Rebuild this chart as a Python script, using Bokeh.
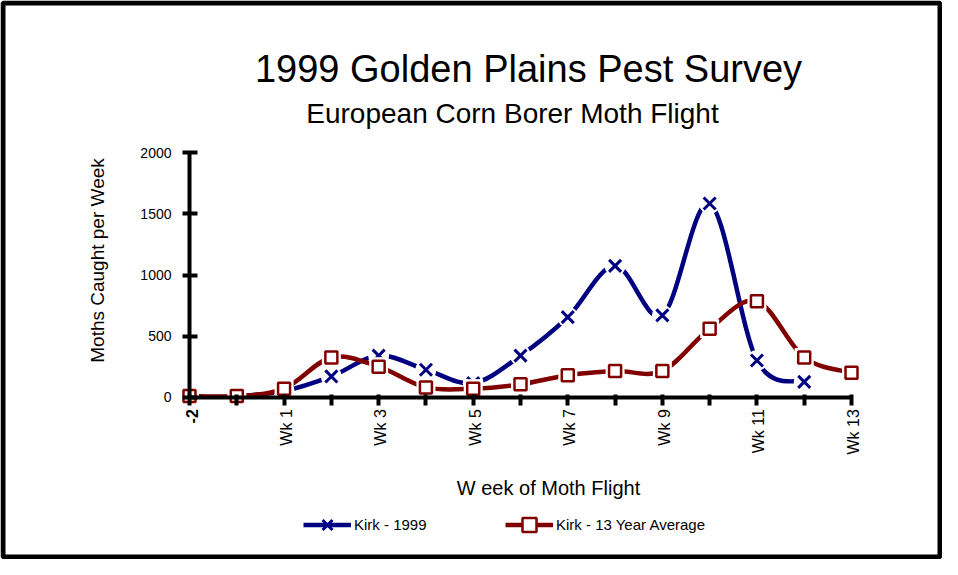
import math
from bokeh.plotting import figure
from bokeh.models import (Range1d, Label, Legend, LegendItem, BoxAnnotation,
                          FixedTicker, ColumnDataSource)
from bokeh.core.properties import value
from bokeh.embed import file_html
from bokeh.resources import INLINE

# ---------------- data ----------------
weeks = list(range(15))
week_labels = ["-2", "", "Wk 1", "", "Wk 3", "", "Wk 5", "", "Wk 7", "",
               "Wk 9", "", "Wk 11", "", "Wk 13"]
kirk_1999 = [None, 5, 50, 170, 340, 225, 115, 340, 655, 1075, 670, 1585, 300, 125, None]
kirk_avg = [10, 10, 70, 325, 250, 80, 70, 105, 180, 215, 215, 560, 785, 325, 200]
y_ticks = [0, 500, 1000, 1500, 2000]

title_text = "1999 Golden Plains Pest Survey"
subtitle_text = "European Corn Borer Moth Flight"
x_title = "W eek of Moth Flight"
y_title = "Moths Caught per Week"
name_1999 = "Kirk - 1999"
name_avg = "Kirk - 13 Year Average"

BLUE = "#000080"
RED = "#800000"
FONT = "Liberation Sans"

W, H = 942, 559


def bezier_source(xs, ys):
    """Smoothed line (Catmull-Rom -> cubic Bezier control points) through the data."""
    pts = [(x, y) for x, y in zip(xs, ys) if y is not None]
    n = len(pts)
    d = dict(x0=[], y0=[], x1=[], y1=[], cx0=[], cy0=[], cx1=[], cy1=[])
    for i in range(n - 1):
        p0 = pts[max(i - 1, 0)]
        p1 = pts[i]
        p2 = pts[i + 1]
        p3 = pts[min(i + 2, n - 1)]
        d["x0"].append(p1[0]); d["y0"].append(p1[1])
        d["x1"].append(p2[0]); d["y1"].append(p2[1])
        d["cx0"].append(p1[0] + (p2[0] - p0[0]) / 6.0)
        d["cy0"].append(p1[1] + (p2[1] - p0[1]) / 6.0)
        d["cx1"].append(p2[0] - (p3[0] - p1[0]) / 6.0)
        d["cy1"].append(p2[1] - (p3[1] - p1[1]) / 6.0)
    return ColumnDataSource(d)


def point_source(xs, ys):
    px = [x for x, y in zip(xs, ys) if y is not None]
    py = [y for y in ys if y is not None]
    return ColumnDataSource(dict(x=px, y=py))


# the frame covers the whole canvas; the data box (0..14, 0..2000) sits inside it
x0_px, x14_px = 189.0, 851.0
y0_px, y2000_px = 396.7, 152.3
kx = (x14_px - x0_px) / 14.0
ky = (y0_px - y2000_px) / 2000.0
x_range = Range1d(-x0_px / kx, (W - x0_px) / kx)
y_range = Range1d(-(H - y0_px) / ky, 2000 + y2000_px / ky)

p = figure(width=W, height=H, x_range=x_range, y_range=y_range,
           output_backend="svg", toolbar_location=None, title=None,
           min_border=0, min_border_left=0, min_border_right=0,
           min_border_top=0, min_border_bottom=0)
p.outline_line_color = None
p.xgrid.visible = False
p.ygrid.visible = False
p.background_fill_color = "white"
p.border_fill_color = "white"

# axes
for ax in (p.xaxis, p.yaxis):
    ax.axis_line_width = 4
    ax.axis_line_color = "black"
    ax.major_tick_line_width = 4
    ax.major_tick_line_color = "black"
    ax.minor_tick_line_color = None
    ax.major_label_text_font = FONT
    ax.major_label_text_color = "black"

p.xaxis.fixed_location = 0
p.yaxis.fixed_location = 0
p.xaxis.bounds = (0, 14)
p.yaxis.bounds = (0, 2000)
p.xaxis.ticker = FixedTicker(ticks=weeks)
# week labels are drawn below as upward-reading text
p.xaxis.major_label_overrides = {w: "" for w in weeks}
p.xaxis.major_label_text_font_size = "0px"
p.xaxis.major_tick_in = 3
p.xaxis.major_tick_out = 8
p.yaxis.ticker = FixedTicker(ticks=y_ticks)
p.yaxis.major_label_text_font_size = "14px"
p.yaxis.major_tick_in = 8
p.yaxis.major_tick_out = 7
p.yaxis.major_label_standoff = 11

# series: 1999
bsrc = bezier_source(weeks, kirk_1999)
bpts = point_source(weeks, kirk_1999)
b_line = p.bezier(x0="x0", y0="y0", x1="x1", y1="y1", cx0="cx0", cy0="cy0",
                  cx1="cx1", cy1="cy1", source=bsrc, line_color=BLUE, line_width=4.5)
b_halo = p.scatter("x", "y", source=bpts, marker="circle", size=21,
                   fill_color="white", line_color=None)
b_mark = p.scatter("x", "y", source=bpts, marker="x", size=17,
                   line_color=BLUE, line_width=3)

# series: 13 year average
rsrc = bezier_source(weeks, kirk_avg)
rpts = point_source(weeks, kirk_avg)
r_line = p.bezier(x0="x0", y0="y0", x1="x1", y1="y1", cx0="cx0", cy0="cy0",
                  cx1="cx1", cy1="cy1", source=rsrc, line_color=RED, line_width=4.5)
r_halo = p.scatter("x", "y", source=rpts, marker="square", size=19,
                   fill_color="white", line_color=None)
r_mark = p.scatter("x", "y", source=rpts, marker="square", size=12,
                   fill_color="white", line_color=RED, line_width=2.5)

# week tick labels, reading upward, hanging below the axis
lab_x = [w for w, lab in zip(weeks, week_labels) if lab]
lab_t = [lab for lab in week_labels if lab]
lab_style = ["bold" if t.startswith("-") else "normal" for t in lab_t]
lsrc = ColumnDataSource(dict(x=lab_x, y=[0] * len(lab_x), text=lab_t, style=lab_style))
p.text(x="x", y="y", text="text", source=lsrc, angle=math.pi / 2,
       text_align="right", text_baseline="middle", x_offset=2, y_offset=12,
       text_font=value(FONT), text_font_size=value("16px"),
       text_font_style="style", text_color="black")


def fy(canvas_y):
    """screen y measured upward from the frame bottom"""
    return H - canvas_y


# legends
for item, loc in ((LegendItem(label=name_1999, renderers=[b_line, b_mark]), (303, fy(542))),
                  (LegendItem(label=name_avg, renderers=[r_line, r_mark]), (505, fy(542)))):
    lg = Legend(items=[item], location=loc, orientation="horizontal",
                glyph_width=48, glyph_height=35, label_standoff=3,
                padding=0, margin=0, border_line_color=None,
                background_fill_alpha=0, label_text_font=FONT,
                label_text_font_size="15px", label_text_color="black")
    p.add_layout(lg, "center")

# texts
p.add_layout(Label(x=528, y=fy(68), x_units="screen", y_units="screen", text=title_text,
                   text_font=FONT, text_font_size="38px", text_align="center",
                   text_baseline="middle", text_color="black"))
p.add_layout(Label(x=512, y=fy(113), x_units="screen", y_units="screen", text=subtitle_text,
                   text_font=FONT, text_font_size="28px", text_align="center",
                   text_baseline="middle", text_color="black"))
p.add_layout(Label(x=97, y=fy(260), x_units="screen", y_units="screen", text=y_title,
                   angle=math.pi / 2, text_font=FONT, text_font_size="19px",
                   text_align="center", text_baseline="middle", text_color="black"))
p.add_layout(Label(x=548, y=fy(487), x_units="screen", y_units="screen", text=x_title,
                   text_font=FONT, text_font_size="20px", text_align="center",
                   text_baseline="middle", text_color="black"))

# outer frame
p.add_layout(BoxAnnotation(left=2.5, right=W - 2.5, bottom=2.5, top=H - 2.5,
                           left_units="screen", right_units="screen",
                           bottom_units="screen", top_units="screen",
                           fill_color=None, line_color="black", line_alpha=1.0,
                           line_width=5))

open("out.html", "w").write(file_html(p, INLINE))
